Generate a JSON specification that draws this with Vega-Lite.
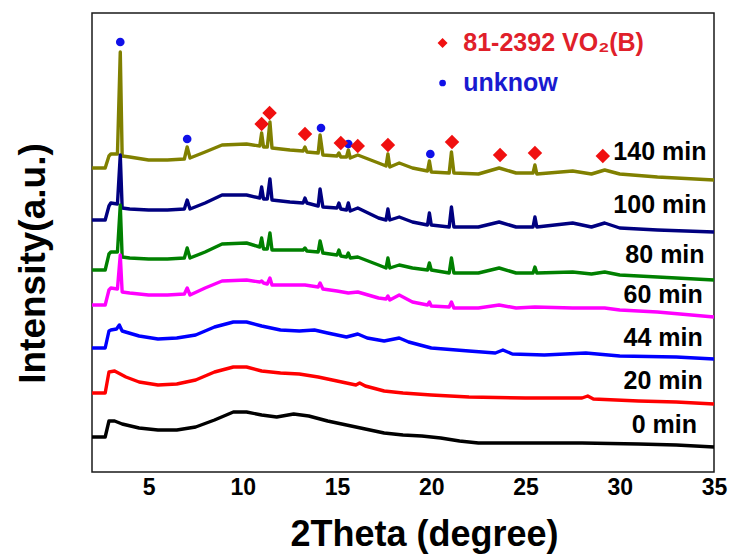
{
  "$schema": "https://vega.github.io/schema/vega-lite/v6.json",
  "width": 622,
  "height": 459,
  "autosize": "none",
  "padding": {"left": 92, "top": 13, "right": 20, "bottom": 82},
  "background": "white",
  "config": {"view": {"stroke": "#1a1a1a", "strokeWidth": 1.5}},
  "datasets": {
    "curves": [
      {"s":"140 min","x":2.0,"y":304},{"s":"140 min","x":2.7,"y":304},{"s":"140 min","x":2.9,"y":316},{"s":"140 min","x":3.0,"y":318},{"s":"140 min","x":3.35,"y":318},{"s":"140 min","x":3.5,"y":420},{"s":"140 min","x":3.6,"y":316},{"s":"140 min","x":4.0,"y":315},{"s":"140 min","x":5.0,"y":312},{"s":"140 min","x":6.0,"y":312},{"s":"140 min","x":6.9,"y":313},{"s":"140 min","x":7.05,"y":325},{"s":"140 min","x":7.2,"y":314},{"s":"140 min","x":8.0,"y":320},{"s":"140 min","x":8.9,"y":327},{"s":"140 min","x":10.2,"y":328},{"s":"140 min","x":10.9,"y":326},{"s":"140 min","x":11.0,"y":339},{"s":"140 min","x":11.1,"y":325},{"s":"140 min","x":11.3,"y":325},{"s":"140 min","x":11.44,"y":350},{"s":"140 min","x":11.55,"y":324},{"s":"140 min","x":12.5,"y":322},{"s":"140 min","x":13.2,"y":321},{"s":"140 min","x":13.3,"y":325},{"s":"140 min","x":13.4,"y":320},{"s":"140 min","x":14.0,"y":319},{"s":"140 min","x":14.1,"y":337},{"s":"140 min","x":14.25,"y":317},{"s":"140 min","x":15.0,"y":316},{"s":"140 min","x":15.1,"y":319},{"s":"140 min","x":15.2,"y":315},{"s":"140 min","x":15.5,"y":315},{"s":"140 min","x":15.6,"y":322},{"s":"140 min","x":15.7,"y":314},{"s":"140 min","x":16.1,"y":317},{"s":"140 min","x":17.2,"y":309},{"s":"140 min","x":17.6,"y":306},{"s":"140 min","x":17.7,"y":318},{"s":"140 min","x":17.8,"y":305},{"s":"140 min","x":18.3,"y":309},{"s":"140 min","x":19.0,"y":304},{"s":"140 min","x":19.8,"y":301},{"s":"140 min","x":19.9,"y":311},{"s":"140 min","x":20.0,"y":300},{"s":"140 min","x":20.95,"y":299},{"s":"140 min","x":21.07,"y":320},{"s":"140 min","x":21.2,"y":299},{"s":"140 min","x":22.5,"y":298},{"s":"140 min","x":23.6,"y":304},{"s":"140 min","x":24.5,"y":299},{"s":"140 min","x":25.4,"y":299},{"s":"140 min","x":25.5,"y":307},{"s":"140 min","x":25.6,"y":298},{"s":"140 min","x":27.5,"y":301},{"s":"140 min","x":28.5,"y":298},{"s":"140 min","x":29.2,"y":302},{"s":"140 min","x":30,"y":298},{"s":"140 min","x":32,"y":295},{"s":"140 min","x":35,"y":292},

      {"s":"100 min","x":2.0,"y":252},{"s":"100 min","x":2.7,"y":252},{"s":"100 min","x":2.9,"y":266},{"s":"100 min","x":3.0,"y":269},{"s":"100 min","x":3.35,"y":268},{"s":"100 min","x":3.5,"y":317},{"s":"100 min","x":3.6,"y":264},{"s":"100 min","x":4.0,"y":263},{"s":"100 min","x":5.0,"y":262},{"s":"100 min","x":6.0,"y":262},{"s":"100 min","x":6.9,"y":263},{"s":"100 min","x":7.05,"y":272},{"s":"100 min","x":7.2,"y":263},{"s":"100 min","x":8.0,"y":269},{"s":"100 min","x":8.9,"y":277},{"s":"100 min","x":10.2,"y":277},{"s":"100 min","x":10.9,"y":274},{"s":"100 min","x":11.0,"y":285},{"s":"100 min","x":11.1,"y":273},{"s":"100 min","x":11.3,"y":273},{"s":"100 min","x":11.44,"y":293},{"s":"100 min","x":11.55,"y":272},{"s":"100 min","x":12.5,"y":270},{"s":"100 min","x":13.2,"y":269},{"s":"100 min","x":13.3,"y":274},{"s":"100 min","x":13.4,"y":269},{"s":"100 min","x":14.0,"y":266},{"s":"100 min","x":14.1,"y":283},{"s":"100 min","x":14.25,"y":265},{"s":"100 min","x":15.0,"y":264},{"s":"100 min","x":15.1,"y":269},{"s":"100 min","x":15.2,"y":263},{"s":"100 min","x":15.5,"y":262},{"s":"100 min","x":15.6,"y":269},{"s":"100 min","x":15.7,"y":261},{"s":"100 min","x":16.1,"y":264},{"s":"100 min","x":17.2,"y":254},{"s":"100 min","x":17.6,"y":252},{"s":"100 min","x":17.7,"y":263},{"s":"100 min","x":17.8,"y":252},{"s":"100 min","x":18.3,"y":255},{"s":"100 min","x":19.0,"y":250},{"s":"100 min","x":19.8,"y":247},{"s":"100 min","x":19.9,"y":259},{"s":"100 min","x":20.0,"y":247},{"s":"100 min","x":20.95,"y":245},{"s":"100 min","x":21.07,"y":265},{"s":"100 min","x":21.2,"y":245},{"s":"100 min","x":22.5,"y":245},{"s":"100 min","x":23.6,"y":250},{"s":"100 min","x":24.5,"y":245},{"s":"100 min","x":25.4,"y":245},{"s":"100 min","x":25.5,"y":255},{"s":"100 min","x":25.6,"y":245},{"s":"100 min","x":27.5,"y":249},{"s":"100 min","x":28.5,"y":245},{"s":"100 min","x":29.2,"y":249},{"s":"100 min","x":30,"y":244},{"s":"100 min","x":32,"y":242},{"s":"100 min","x":35,"y":240},

      {"s":"80 min","x":2.0,"y":202},{"s":"80 min","x":2.7,"y":202},{"s":"80 min","x":2.9,"y":218},{"s":"80 min","x":3.0,"y":220},{"s":"80 min","x":3.35,"y":220},{"s":"80 min","x":3.5,"y":267},{"s":"80 min","x":3.6,"y":215},{"s":"80 min","x":4.0,"y":214},{"s":"80 min","x":5.0,"y":213},{"s":"80 min","x":6.0,"y":213},{"s":"80 min","x":6.9,"y":214},{"s":"80 min","x":7.05,"y":224},{"s":"80 min","x":7.2,"y":214},{"s":"80 min","x":8.0,"y":220},{"s":"80 min","x":8.9,"y":228},{"s":"80 min","x":10.2,"y":229},{"s":"80 min","x":10.9,"y":225},{"s":"80 min","x":11.0,"y":234},{"s":"80 min","x":11.1,"y":223},{"s":"80 min","x":11.3,"y":223},{"s":"80 min","x":11.44,"y":239},{"s":"80 min","x":11.55,"y":222},{"s":"80 min","x":12.5,"y":222},{"s":"80 min","x":13.2,"y":222},{"s":"80 min","x":13.3,"y":224},{"s":"80 min","x":13.4,"y":221},{"s":"80 min","x":14.0,"y":220},{"s":"80 min","x":14.1,"y":231},{"s":"80 min","x":14.25,"y":219},{"s":"80 min","x":15.0,"y":217},{"s":"80 min","x":15.1,"y":222},{"s":"80 min","x":15.2,"y":216},{"s":"80 min","x":15.5,"y":215},{"s":"80 min","x":15.6,"y":219},{"s":"80 min","x":15.7,"y":214},{"s":"80 min","x":16.1,"y":215},{"s":"80 min","x":17.2,"y":207},{"s":"80 min","x":17.6,"y":204},{"s":"80 min","x":17.7,"y":214},{"s":"80 min","x":17.8,"y":204},{"s":"80 min","x":18.3,"y":207},{"s":"80 min","x":19.0,"y":204},{"s":"80 min","x":19.8,"y":202},{"s":"80 min","x":19.9,"y":209},{"s":"80 min","x":20.0,"y":202},{"s":"80 min","x":20.95,"y":199},{"s":"80 min","x":21.07,"y":214},{"s":"80 min","x":21.2,"y":199},{"s":"80 min","x":22.5,"y":199},{"s":"80 min","x":23.6,"y":204},{"s":"80 min","x":24.5,"y":199},{"s":"80 min","x":25.4,"y":199},{"s":"80 min","x":25.5,"y":205},{"s":"80 min","x":25.6,"y":199},{"s":"80 min","x":27.5,"y":200},{"s":"80 min","x":28.5,"y":198},{"s":"80 min","x":29.2,"y":200},{"s":"80 min","x":30,"y":197},{"s":"80 min","x":32,"y":195},{"s":"80 min","x":35,"y":192},

      {"s":"60 min","x":2.0,"y":167},{"s":"60 min","x":2.7,"y":167},{"s":"60 min","x":2.9,"y":182},{"s":"60 min","x":3.0,"y":184},{"s":"60 min","x":3.35,"y":183},{"s":"60 min","x":3.5,"y":217},{"s":"60 min","x":3.6,"y":180},{"s":"60 min","x":4.0,"y":179},{"s":"60 min","x":5.0,"y":177},{"s":"60 min","x":6.0,"y":177},{"s":"60 min","x":6.9,"y":178},{"s":"60 min","x":7.05,"y":184},{"s":"60 min","x":7.2,"y":177},{"s":"60 min","x":8.0,"y":184},{"s":"60 min","x":8.9,"y":191},{"s":"60 min","x":10.2,"y":192},{"s":"60 min","x":10.9,"y":190},{"s":"60 min","x":11.0,"y":191},{"s":"60 min","x":11.1,"y":189},{"s":"60 min","x":11.3,"y":188},{"s":"60 min","x":11.44,"y":194},{"s":"60 min","x":11.55,"y":187},{"s":"60 min","x":12.5,"y":187},{"s":"60 min","x":13.3,"y":187},{"s":"60 min","x":14.0,"y":185},{"s":"60 min","x":14.1,"y":189},{"s":"60 min","x":14.25,"y":183},{"s":"60 min","x":15.0,"y":181},{"s":"60 min","x":15.6,"y":179},{"s":"60 min","x":16.1,"y":180},{"s":"60 min","x":17.2,"y":174},{"s":"60 min","x":17.6,"y":173},{"s":"60 min","x":17.7,"y":176},{"s":"60 min","x":17.8,"y":172},{"s":"60 min","x":18.3,"y":177},{"s":"60 min","x":19.0,"y":170},{"s":"60 min","x":19.8,"y":167},{"s":"60 min","x":19.9,"y":170},{"s":"60 min","x":20.0,"y":166},{"s":"60 min","x":20.95,"y":165},{"s":"60 min","x":21.07,"y":170},{"s":"60 min","x":21.2,"y":164},{"s":"60 min","x":22.5,"y":164},{"s":"60 min","x":23.6,"y":167},{"s":"60 min","x":24.5,"y":164},{"s":"60 min","x":25.5,"y":165},{"s":"60 min","x":27.5,"y":164},{"s":"60 min","x":29.2,"y":164},{"s":"60 min","x":30,"y":162},{"s":"60 min","x":32,"y":160},{"s":"60 min","x":35,"y":155},

      {"s":"44 min","x":2.0,"y":124},{"s":"44 min","x":2.7,"y":124},{"s":"44 min","x":2.9,"y":141},{"s":"44 min","x":3.0,"y":142},{"s":"44 min","x":3.3,"y":143},{"s":"44 min","x":3.45,"y":147},{"s":"44 min","x":3.6,"y":141},{"s":"44 min","x":4.5,"y":136},{"s":"44 min","x":5.5,"y":133},{"s":"44 min","x":6.5,"y":134},{"s":"44 min","x":7.5,"y":137},{"s":"44 min","x":8.5,"y":145},{"s":"44 min","x":9.5,"y":150},{"s":"44 min","x":10.2,"y":150},{"s":"44 min","x":11.0,"y":146},{"s":"44 min","x":12.0,"y":142},{"s":"44 min","x":13.0,"y":141},{"s":"44 min","x":13.8,"y":142},{"s":"44 min","x":14.5,"y":139},{"s":"44 min","x":15.5,"y":135},{"s":"44 min","x":16.1,"y":138},{"s":"44 min","x":16.6,"y":134},{"s":"44 min","x":17.5,"y":131},{"s":"44 min","x":18.3,"y":134},{"s":"44 min","x":18.8,"y":130},{"s":"44 min","x":20,"y":124},{"s":"44 min","x":22,"y":121},{"s":"44 min","x":23.4,"y":119},{"s":"44 min","x":23.8,"y":122},{"s":"44 min","x":24.3,"y":118},{"s":"44 min","x":26,"y":117},{"s":"44 min","x":28.2,"y":119},{"s":"44 min","x":30,"y":116},{"s":"44 min","x":33,"y":115},{"s":"44 min","x":35,"y":113},

      {"s":"20 min","x":2.0,"y":79},{"s":"20 min","x":2.7,"y":79},{"s":"20 min","x":2.9,"y":100},{"s":"20 min","x":3.2,"y":101},{"s":"20 min","x":3.8,"y":95},{"s":"20 min","x":4.5,"y":90},{"s":"20 min","x":5.5,"y":87},{"s":"20 min","x":6.5,"y":88},{"s":"20 min","x":7.5,"y":92},{"s":"20 min","x":8.5,"y":100},{"s":"20 min","x":9.5,"y":105},{"s":"20 min","x":10.2,"y":105},{"s":"20 min","x":11.0,"y":101},{"s":"20 min","x":12.0,"y":99},{"s":"20 min","x":13.0,"y":98},{"s":"20 min","x":14.0,"y":95},{"s":"20 min","x":15.0,"y":91},{"s":"20 min","x":16.0,"y":87},{"s":"20 min","x":16.2,"y":89},{"s":"20 min","x":16.5,"y":86},{"s":"20 min","x":17.5,"y":81},{"s":"20 min","x":18.5,"y":79},{"s":"20 min","x":20,"y":77},{"s":"20 min","x":22,"y":75},{"s":"20 min","x":25,"y":74},{"s":"20 min","x":28,"y":74},{"s":"20 min","x":28.3,"y":76},{"s":"20 min","x":28.6,"y":73},{"s":"20 min","x":31,"y":71},{"s":"20 min","x":33,"y":70},{"s":"20 min","x":35,"y":68},

      {"s":"0 min","x":2.0,"y":35},{"s":"0 min","x":2.7,"y":35},{"s":"0 min","x":2.9,"y":51},{"s":"0 min","x":3.2,"y":51},{"s":"0 min","x":3.6,"y":48},{"s":"0 min","x":4.5,"y":44},{"s":"0 min","x":5.5,"y":42},{"s":"0 min","x":6.5,"y":42},{"s":"0 min","x":7.5,"y":45},{"s":"0 min","x":8.5,"y":52},{"s":"0 min","x":9.5,"y":60},{"s":"0 min","x":10.2,"y":60},{"s":"0 min","x":11.0,"y":57},{"s":"0 min","x":11.8,"y":55},{"s":"0 min","x":12.7,"y":58},{"s":"0 min","x":13.5,"y":56},{"s":"0 min","x":14.5,"y":51},{"s":"0 min","x":15.5,"y":47},{"s":"0 min","x":16.5,"y":43},{"s":"0 min","x":17.5,"y":39},{"s":"0 min","x":18.5,"y":37},{"s":"0 min","x":19.5,"y":36},{"s":"0 min","x":20.5,"y":34},{"s":"0 min","x":21.5,"y":31},{"s":"0 min","x":22.5,"y":29},{"s":"0 min","x":25,"y":29},{"s":"0 min","x":28,"y":29},{"s":"0 min","x":31,"y":28},{"s":"0 min","x":33,"y":27},{"s":"0 min","x":35,"y":25}
    ],
    "markers": [
      {"phase":"unknow","x":3.5,"y":430},{"phase":"unknow","x":7.05,"y":333},{"phase":"unknow","x":14.15,"y":344},{"phase":"unknow","x":15.6,"y":328},{"phase":"unknow","x":19.95,"y":318},
      {"phase":"VO2(B)","x":11.0,"y":348},{"phase":"VO2(B)","x":11.42,"y":359},{"phase":"VO2(B)","x":13.3,"y":338},{"phase":"VO2(B)","x":15.2,"y":329},{"phase":"VO2(B)","x":16.1,"y":326},{"phase":"VO2(B)","x":17.7,"y":327},{"phase":"VO2(B)","x":21.1,"y":330},{"phase":"VO2(B)","x":23.65,"y":317},{"phase":"VO2(B)","x":25.5,"y":319},{"phase":"VO2(B)","x":29.1,"y":316}
    ],
    "labels": [
      {"label":"140 min","x":34.6,"y":320},{"label":"100 min","x":34.6,"y":267},{"label":"80 min","x":34.5,"y":217},{"label":"60 min","x":34.4,"y":177},{"label":"44 min","x":34.4,"y":134},{"label":"20 min","x":34.4,"y":91},{"label":"0 min","x":34.1,"y":47}
    ],
    "legend": [
      {"phase":"VO2(B)","text":"81-2392 VO₂(B)","x":20.6,"tx":21.7,"y":429},
      {"phase":"unknow","text":"unknow","x":20.6,"tx":21.7,"y":389}
    ]
  },
  "encoding": {
    "x": {"field":"x","type":"quantitative","scale":{"domain":[2,35],"nice":false,"zero":false},
      "axis":{"values":[5,10,15,20,25,30,35],"ticks":false,"domain":false,"grid":false,"labelFlush":false,"labelOverlap":false,
        "labelFont":"Liberation Sans","labelFontSize":23,"labelFontWeight":"bold","labelColor":"#000","labelPadding":4,
        "title":"2Theta (degree)","titleFont":"Liberation Sans","titleFontSize":36,"titleFontWeight":"bold","titleColor":"#000",
        "titleX":332,"titleY":73,"titleBaseline":"alphabetic","titleAlign":"center"}},
    "y": {"field":"y","type":"quantitative","scale":{"domain":[0,459],"nice":false,"zero":false},
      "axis":{"labels":false,"ticks":false,"domain":false,"grid":false,
        "title":"Intensity(a.u.)","titleFont":"Liberation Sans","titleFontSize":37,"titleFontWeight":"bold","titleColor":"#000",
        "titleX":-59,"titleY":250,"titleAngle":-90,"titleBaseline":"middle","titleAlign":"center"}}
  },
  "layer": [
    {
      "data": {"name":"curves"},
      "mark": {"type":"line","strokeWidth":3.4,"strokeJoin":"round"},
      "encoding": {
        "color": {"field":"s","type":"nominal","legend":null,
          "scale":{"domain":["0 min","20 min","44 min","60 min","80 min","100 min","140 min"],
                   "range":["#000000","#ff0000","#0000ff","#ff00ff","#008000","#000080","#808000"]}}
      }
    },
    {
      "data": {"name":"markers"},
      "mark": {"type":"point","filled":true,"opacity":1},
      "encoding": {
        "shape": {"field":"phase","type":"nominal","legend":null,"scale":{"domain":["VO2(B)","unknow"],"range":["diamond","circle"]}},
        "color": {"field":"phase","type":"nominal","legend":null,"scale":{"domain":["VO2(B)","unknow"],"range":["#f01010","#1010e8"]}},
        "size": {"field":"phase","type":"nominal","legend":null,"scale":{"domain":["VO2(B)","unknow"],"range":[210,75]}}
      }
    },
    {
      "data": {"name":"labels"},
      "mark": {"type":"text","align":"right","baseline":"middle","font":"Liberation Sans","fontSize":25,"fontWeight":"bold","color":"#000"},
      "encoding": {"text": {"field":"label"}}
    },
    {
      "data": {"name":"legend"},
      "mark": {"type":"point","filled":true,"opacity":1},
      "encoding": {
        "shape": {"field":"phase","type":"nominal","legend":null,"scale":{"domain":["VO2(B)","unknow"],"range":["diamond","circle"]}},
        "color": {"field":"phase","type":"nominal","legend":null,"scale":{"domain":["VO2(B)","unknow"],"range":["#f01010","#1010e8"]}},
        "size": {"field":"phase","type":"nominal","legend":null,"scale":{"domain":["VO2(B)","unknow"],"range":[100,45]}}
      }
    },
    {
      "data": {"name":"legend"},
      "mark": {"type":"text","align":"left","baseline":"middle","font":"Liberation Sans","fontSize":25,"fontWeight":"bold"},
      "encoding": {
        "x": {"field":"tx","type":"quantitative"},
        "text": {"field":"text"},
        "color": {"field":"phase","type":"nominal","legend":null,"scale":{"domain":["VO2(B)","unknow"],"range":["#e0202a","#1a1ad0"]}}
      }
    }
  ],
  "resolve": {"scale": {"color":"independent","shape":"independent","size":"independent"}}
}
